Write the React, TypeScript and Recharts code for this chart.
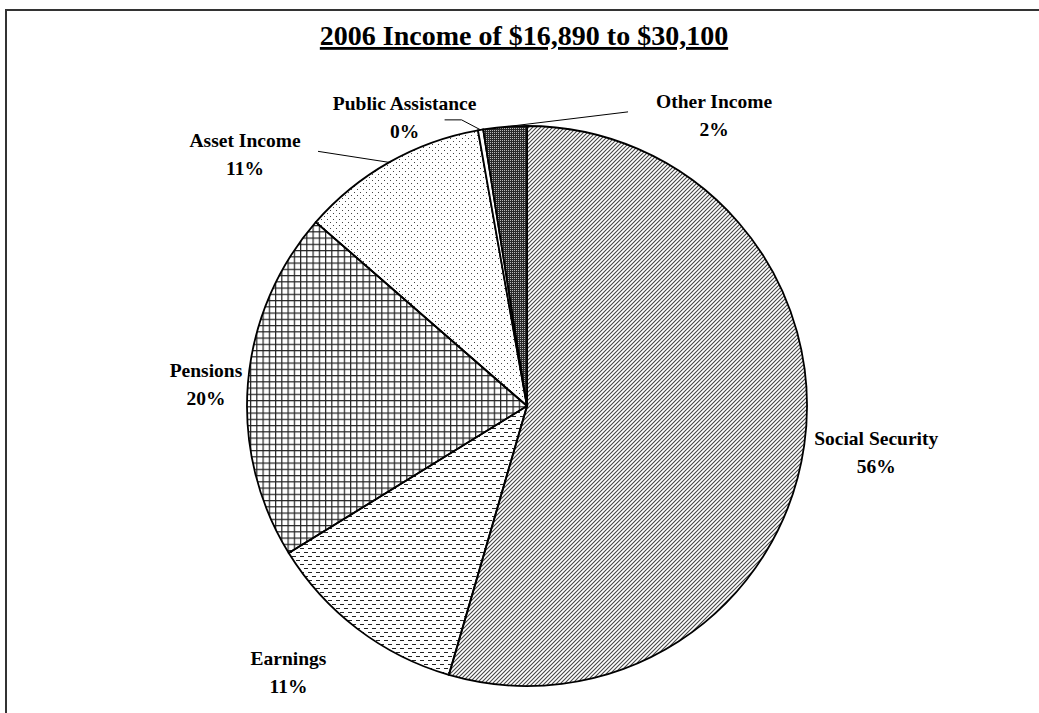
import { PieChart, Pie, Cell } from 'recharts'

const CATEGORIES = ['Social Security', 'Earnings', 'Pensions', 'Asset Income', 'Public Assistance', 'Other Income']
const SHARES = [54.5, 11.7, 20.2, 10.8, 0.3, 2.5]
const PCT_LABELS = ['56%', '11%', '20%', '11%', '0%', '2%']

const data = CATEGORIES.map((name, i) => ({ name, value: SHARES[i], pct: PCT_LABELS[i] }))

const FILLS = ['url(#pSocial)', 'url(#pEarn)', 'url(#pPens)', 'url(#pAsset)', '#ffffff', 'url(#pOther)']

// label block centre, as offset from the slice's mid point on the rim
const LABEL_NUDGE = [
  [72, 7],
  [-69, 43],
  [-42, 1],
  [-144, -8],
  [-76, -13],
  [209, -12],
]
// leader lines: points relative to label centre, last point = rim
const LEADERS: Record<number, number[][]> = {
  3: [[73, -3]],
  4: [[40, 3], [57, 3]],
  5: [[-86, -3]],
}

const FONT = '"Liberation Serif", "Times New Roman", serif'
const RAD = Math.PI / 180

function renderLabel(props: any) {
  const { cx, cy, midAngle, outerRadius, index } = props
  const rx = cx + outerRadius * Math.cos(-midAngle * RAD)
  const ry = cy + outerRadius * Math.sin(-midAngle * RAD)
  const [dx, dy] = LABEL_NUDGE[index]
  const lx = rx + dx
  const ly = ry + dy
  const leader = LEADERS[index]
  return (
    <g key={`lbl-${index}`}>
      {leader && (
        <polyline
          points={[...leader.map(([px, py]) => `${lx + px},${ly + py}`), `${rx},${ry}`].join(' ')}
          fill="none"
          stroke="#000"
          strokeWidth={1}
        />
      )}
      <text x={lx} y={ly} textAnchor="middle" fontFamily={FONT} fontWeight="bold" fontSize={19.5} fill="#000">
        <tspan x={lx} dy={-7}>{data[index].name}</tspan>
        <tspan x={lx} dy={28}>{data[index].pct}</tspan>
      </text>
    </g>
  )
}

export default function App() {
  return (
    <div style={{ position: 'absolute', left: 0, top: 0, width: 1039, height: 713, background: '#fff', overflow: 'hidden' }}>
      <svg width={0} height={0} style={{ position: 'absolute' }}>
        <defs>
          <pattern id="pSocial" width={4} height={4} patternUnits="userSpaceOnUse">
            <path d="M-1,1 l2,-2 M0,4 l4,-4 M3,5 l2,-2" stroke="#444" strokeWidth={1.1} />
          </pattern>
          <pattern id="pEarn" width={8} height={8} patternUnits="userSpaceOnUse">
            <rect x={0} y={0} width={4} height={1} fill="#222" />
            <rect x={4} y={4} width={4} height={1} fill="#222" />
          </pattern>
          <pattern id="pPens" width={6.25} height={6.25} patternUnits="userSpaceOnUse">
            <rect x={0} y={0} width={6.25} height={1.2} fill="#222" />
            <rect x={0} y={0} width={1.2} height={6.25} fill="#222" />
          </pattern>
          <pattern id="pAsset" width={6} height={6} patternUnits="userSpaceOnUse">
            <rect x={0} y={0} width={1} height={1} fill="#444" />
            <rect x={3} y={3} width={1} height={1} fill="#444" />
          </pattern>
          <pattern id="pOther" width={2} height={2} patternUnits="userSpaceOnUse">
            <rect x={0} y={0} width={2} height={2} fill="#2a2a2a" />
            <rect x={0} y={0} width={1} height={1} fill="#bbb" />
          </pattern>
        </defs>
      </svg>
      <div style={{ position: 'absolute', left: 5, top: 9, width: 1100, height: 800, borderTop: '2px solid #333', borderLeft: '2px solid #333' }} />
      <div style={{ position: 'absolute', left: 0, top: 0 }}>
        <PieChart width={1039} height={713} margin={{ top: 0, right: 0, bottom: 0, left: 0 }}>
          <text x={524} y={45} textAnchor="middle" fontFamily={FONT} fontWeight="bold" fontSize={28} textDecoration="underline" fill="#000">
            2006 Income of $16,890 to $30,100
          </text>
          <Pie
            data={data}
            dataKey="value"
            nameKey="name"
            cx={527}
            cy={406}
            outerRadius={280}
            startAngle={90}
            endAngle={-270}
            stroke="#000"
            strokeWidth={1.8}
            labelLine={false}
            label={renderLabel}
            isAnimationActive={false}
          >
            {data.map((entry, i) => (
              <Cell key={`cell-${i}`} fill={FILLS[i]} />
            ))}
          </Pie>
        </PieChart>
      </div>
    </div>
  )
}
